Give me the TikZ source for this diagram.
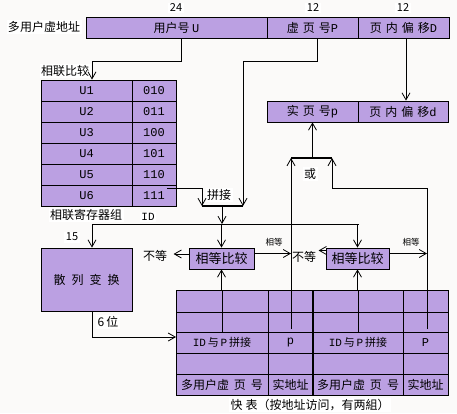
\documentclass[tikz,border=0pt]{standalone}
\usepackage{fontspec}
\setmainfont{Noto Sans CJK SC}
\newfontfamily\lat{Liberation Mono}
\usetikzlibrary{arrows.meta,calc}
\definecolor{cellfill}{RGB}{187,160,226}
\definecolor{bg}{RGB}{251,250,249}
\tikzset{
  cell/.style={draw, fill=cellfill, inner sep=0pt, line width=0.8pt, font=\fontsize{12}{14}\selectfont},
  txt/.style={inner sep=0pt, font=\fontsize{12}{14}\selectfont},
  lbl/.style={fill=white, inner sep=1.5pt, font=\fontsize{12}{14}\selectfont},
  num/.style={fill=white, inner sep=1.5pt, font=\fontsize{11}{13}\selectfont},
  small/.style={inner sep=0pt, font=\fontsize{8.5}{10}\selectfont},
  arr/.style={-{Straight Barb[length=7pt,width=8pt]}, line width=0.8pt},
  ln/.style={line width=0.8pt},
  bar/.style={line width=2pt},
}
\begin{document}
\begin{tikzpicture}[x=1pt,y=-1pt]
\fill[bg] (0,0) rectangle (457,413);
\useasboundingbox (0,0) rectangle (457,413);

% ---- top virtual address bar
\node[lbl] (lva) at (44,27) {多用户虚地址};
\node[num] (n24) at (176,8) {24};
\node[num] (n12a) at (313,8) {12};
\node[num] (n12b) at (403,8) {12};
\node[cell, minimum width=181pt, minimum height=21pt] (u) at (176.5,27.5) {用户号 {\lat U}};
\node[cell, minimum width=91pt, minimum height=21pt] (pv) at (312.5,27.5) {虚\hspace{4pt}页\hspace{4pt}号{\lat P}};
\node[cell, minimum width=91pt, minimum height=21pt] (dv) at (403.5,27.5) {页\hspace{4pt}内\hspace{4pt}偏\hspace{4pt}移{\lat D}};

% ---- real address bar
\node[cell, minimum width=91pt, minimum height=21pt] (rp) at (312.5,111.5) {实\hspace{4pt}页\hspace{4pt}号{\lat p}};
\node[cell, minimum width=90pt, minimum height=21pt] (rd) at (403,111.5) {页\hspace{4pt}内\hspace{4pt}偏\hspace{4pt}移{\lat d}};

% ---- associative register table
\foreach \v [count=\k] in {010,011,100,101,110,111} {
  \node[cell, minimum width=91pt, minimum height=21pt] (U\k) at (86.5,69.5+21*\k) {\lat U\k};
  \node[cell, minimum width=44pt, minimum height=21pt] (V\k) at (154,69.5+21*\k) {\lat \v};
}
\node[lbl] (lcmp) at (65,71) {相联比较};
\node[lbl] (lreg) at (86,215) {相联寄存器组};
\node[num] (lid) at (148,217) {\lat ID};
\node[lbl] (ljoin) at (219,195) {拼接};
\node[num] (l15) at (72,237) {15};

% ---- hash box
\node[cell, minimum width=91pt, minimum height=63pt] (hash) at (86.5,279.5) {散\hspace{6pt}列\hspace{6pt}变\hspace{6pt}换};
\node[lbl] (l6) at (108,322) {6\,位};

% ---- compare boxes
\node[cell, minimum width=65pt, minimum height=21pt, font=\fontsize{13}{15}\selectfont] (c1) at (221.5,258.5) {相等比较};
\node[cell, minimum width=63pt, minimum height=21pt, font=\fontsize{13}{15}\selectfont] (c2) at (357.5,258.5) {相等比较};
\node[lbl, fill=none] (ne1) at (155,256) {不等};
\node[lbl, fill=none] (ne2) at (304,257) {不等};
\node[small] (eq1) at (274,242) {相等};
\node[small] (eq2) at (411,242) {相等};
\node[lbl] (lor) at (310,174) {或};

% ---- quick table
\fill[cellfill] (176,290) rectangle (448,395);
\foreach \yy in {312,332,353,374} \draw[ln] (176,\yy) -- (448,\yy);
\foreach \xx in {222,358} \draw[ln] (\xx,290) -- (\xx,332);
\foreach \xx in {268,403} \draw[ln] (\xx,290) -- (\xx,395);
\draw[ln] (176,290) rectangle (448,395);
\draw[bar] (313,290) -- (313,395);
\node[txt, font=\fontsize{11}{13}\selectfont] (qa1) at (222,342.5) {{\lat ID}\,与\,{\lat P}\,拼接};
\node[txt] (qp1) at (290.5,342.5) {\lat p};
\node[txt, font=\fontsize{11}{13}\selectfont] (qa2) at (358,342.5) {{\lat ID}\,与\,{\lat P}\,拼接};
\node[txt] (qp2) at (425.5,342.5) {\lat P};
\node[txt] (qb1) at (222,384.5) {多用户虚\hspace{5pt}页\hspace{5pt}号};
\node[txt] (qr1) at (290.5,384.5) {实地址};
\node[txt] (qb2) at (358,384.5) {多用户虚\hspace{5pt}页\hspace{5pt}号};
\node[txt] (qr2) at (425.5,384.5) {实地址};
\node[lbl] (cap) at (310,405) {快\hspace{3pt}表（按地址访问，有两組）};

% ---- coordinates
\coordinate (s111) at (167,188);
\coordinate (j1) at (202,206);
\coordinate (j2) at (243,206);
\coordinate (jm) at (222,206);
\coordinate (idl) at (92,224);
\coordinate (idr) at (359,224);
\coordinate (qL) at (176,337);
\coordinate (qtop) at (0,290);
\coordinate (pb1) at (291,329);
\coordinate (pb2) at (427,329);
\coordinate (or1) at (291,158);
\coordinate (or2) at (332,158);

% ---- connectors
\draw[arr] ([xshift=4.5pt]u.south) -- ++(0,23) -| ([xshift=5.5pt]U1.north);
\draw[arr] ([xshift=4.5pt]pv.south) -- ++(0,23) -| (j2);
\draw[arr] (s111) -| (j1);
\draw[bar] (j1) -- (j2);
\draw[arr] (jm) -- (jm |- idl);
\draw[ln] (idl) -- (idr);
\draw[arr] (idl) -- (idl |- hash.north);
\draw[arr] (c1.north |- idl) -- (c1.north);
\draw[arr] (c2.north |- idl) -- (c2.north);
\draw[arr] ([xshift=5.5pt]hash.south) |- (qL);
\draw[arr] ([yshift=4.5pt]c1.west) -- ++(-15,0);
\draw[arr] ([yshift=5pt]c1.east) -- ([yshift=5pt]c1.east -| pb1);
\draw[arr] ([yshift=8pt]c2.west) -- ++(-7,0);
\draw[arr] ([yshift=5pt]c2.east) -- ([yshift=5pt]c2.east -| pb2);
\draw[arr] (c1.south |- qtop) -- (c1.south);
\draw[arr] (c2.south |- qtop) -- (c2.south);
\draw[arr] (pb1) -- (or1);
\draw[arr] (pb2) -- ++(0,-141) -| (or2);
\draw[bar] (or1) -- (or2);
\draw[arr] (rp.south |- or1) -- (rp.south);
\draw[arr] ([xshift=2.5pt]dv.south) -- ([xshift=2.5pt]dv.south |- rd.north);
\end{tikzpicture}
\end{document}
